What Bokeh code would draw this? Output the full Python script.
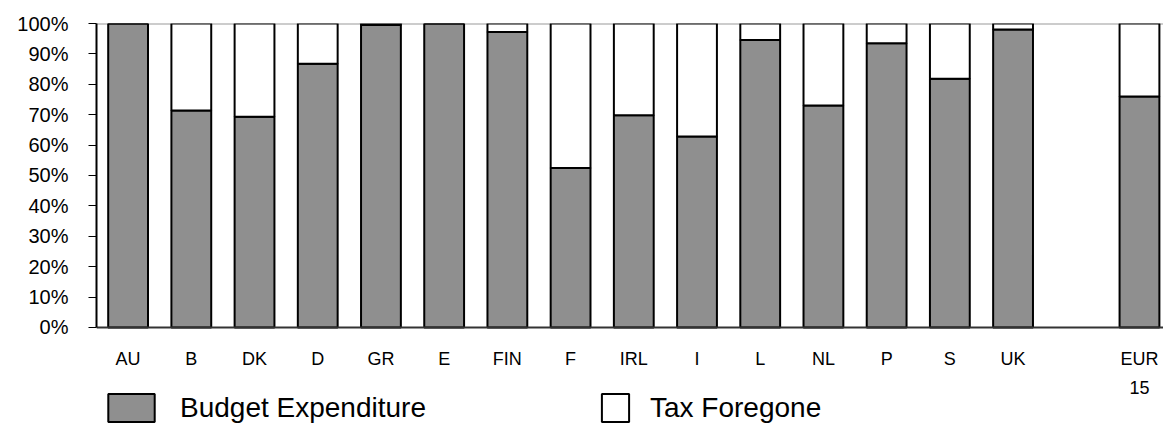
from bokeh.plotting import figure
from bokeh.models import Range1d, FixedTicker, Span, Legend, LegendItem, ColumnDataSource, NumeralTickFormatter
from bokeh.embed import file_html
from bokeh.resources import INLINE

countries = ["AU", "B", "DK", "D", "GR", "E", "FIN", "F", "IRL", "I", "L", "NL", "P", "S", "UK", "EUR\n15"]
slots = [0, 1, 2, 3, 4, 5, 6, 7, 8, 9, 10, 11, 12, 13, 14, 16]
budget = [100, 71.4, 69.3, 86.8, 99.5, 100, 97.2, 52.5, 69.8, 62.8, 94.6, 73.0, 93.5, 81.8, 98.0, 76.0]
tax = [100 - b for b in budget]
series = ["Budget Expenditure", "Tax Foregone"]

xs = [s + 0.5 for s in slots]
src = ColumnDataSource(dict(x=xs, b=[v / 100 for v in budget], t=[v / 100 for v in tax], top=[1.0] * len(xs)))

BUDGET_STYLE = dict(fill_color="#8f8f8f", line_color="black", line_width=2)
TAX_STYLE = dict(fill_color="white", line_color="black", line_width=2)

p = figure(width=1163, height=434, output_backend="svg", toolbar_location=None,
           x_range=Range1d(0, 16.88), y_range=Range1d(-0.352, 1.0),
           min_border_left=96, min_border_right=0, min_border_top=23, min_border_bottom=0)
p.outline_line_color = None
p.xgrid.visible = False
p.ygrid.visible = False

p.add_layout(Span(location=1.0, dimension="width", line_color="#999999", line_width=2, level="underlay"))
rb = p.vbar(x="x", width=0.63, bottom=0, top="b", source=src, **BUDGET_STYLE)
rt = p.vbar(x="x", width=0.63, bottom="b", top="top", source=src, **TAX_STYLE)

p.yaxis.bounds = (0, 1)
p.yaxis.ticker = FixedTicker(ticks=[i / 10 for i in range(11)])
p.yaxis.formatter = NumeralTickFormatter(format="0%")
p.yaxis.major_label_text_font = "Liberation Sans"
p.yaxis.major_label_text_font_size = "20px"
p.yaxis.major_label_text_color = "black"
p.yaxis.major_tick_out = 8
p.yaxis.major_tick_in = 0
p.yaxis.major_tick_line_color = "black"
p.yaxis.minor_tick_line_color = None
p.yaxis.major_label_standoff = 20
p.yaxis.axis_line_color = "black"
p.yaxis.axis_line_width = 2

p.xaxis.fixed_location = 0
p.xaxis.ticker = FixedTicker(ticks=xs)
p.xaxis.major_label_overrides = {x: c for x, c in zip(xs, countries)}
p.xaxis.major_label_text_font = "Liberation Sans"
p.xaxis.major_label_text_font_size = "18px"
p.xaxis.major_label_text_color = "black"
p.xaxis.major_label_text_line_height = 1.45
p.xaxis.major_tick_out = 0
p.xaxis.major_tick_in = 0
p.xaxis.minor_tick_line_color = None
p.xaxis.major_label_standoff = 22
p.xaxis.axis_line_color = "#333333"
p.xaxis.axis_line_width = 2

common = dict(orientation="horizontal", glyph_height=35, label_text_font="Liberation Sans",
              label_text_font_size="28px", label_text_color="black",
              padding=0, margin=0, border_line_color=None, background_fill_alpha=0)
leg1 = Legend(items=[LegendItem(label=series[0], renderers=[rb])], location=(6, 9),
              glyph_width=58, label_standoff=20, **common)
leg2 = Legend(items=[LegendItem(label=series[1], renderers=[rt])], location=(502, 9),
              glyph_width=34, label_standoff=18, **common)
p.add_layout(leg1)
p.add_layout(leg2)

open("out.html", "w").write(file_html(p, INLINE))
